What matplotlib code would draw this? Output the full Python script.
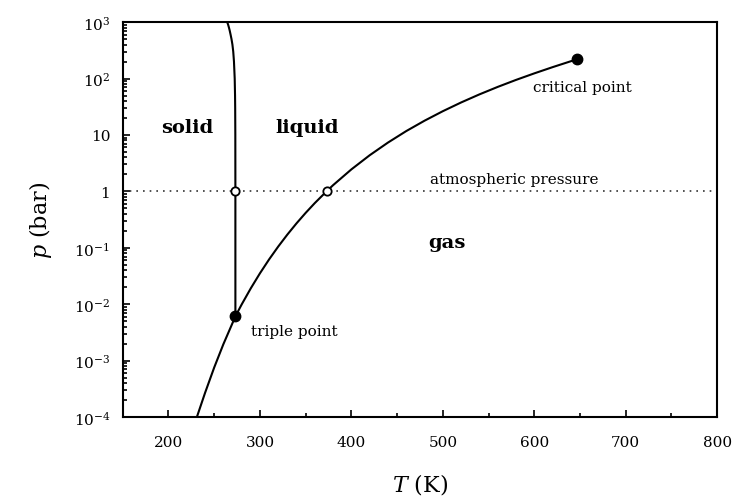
import matplotlib
matplotlib.use("Agg")
import matplotlib.pyplot as plt
from matplotlib.ticker import FixedLocator, FixedFormatter, LogLocator, MultipleLocator, NullFormatter

plt.rcParams['font.family'] = ['DejaVu Serif']
plt.rcParams['mathtext.fontset'] = 'dejavuserif'

# Data
sub_T = [231.0, 240.0, 250.0, 260.0, 273.16]
sub_p = [1.0e-4, 2.7e-4, 7.6e-4, 1.96e-3, 6.1e-3]

vap_T = [273.16, 280.0, 290.0, 300.0, 310.0, 320.0, 330.0, 340.0, 350.0, 360.0,
         373.15, 380.0, 400.0, 420.0, 440.0, 460.0, 480.0, 500.0, 520.0, 540.0,
         560.0, 580.0, 600.0, 620.0, 640.0, 647.1]
vap_p = [6.12e-3, 9.92e-3, 1.92e-2, 3.54e-2, 6.24e-2, 0.1055, 0.1721, 0.2719, 0.4168, 0.6219,
         1.0142, 1.2906, 2.4577, 4.373, 7.337, 11.73, 17.91, 26.39, 37.69, 52.38,
         71.08, 94.53, 123.46, 159.11, 202.65, 220.64]

melt_T = [273.16, 273.15, 273.08, 272.93, 272.78, 272.4, 271.6, 270.8, 269.9, 268.9,
          267.9, 267.0, 266.1, 265.2, 264.2]
melt_p = [6.1e-3, 1.013, 10.0, 30.0, 50.0, 100.0, 200.0, 300.0, 400.0, 500.0,
          600.0, 700.0, 800.0, 900.0, 1000.0]

filled_T = [273.16, 647.1]
filled_p = [6.12e-3, 220.64]
open_T = [273.15, 373.15]
open_p = [1.0, 1.0]

atm_p = 1.0
T_range = [150, 800]
p_range = [1e-4, 1e3]

ytick_vals = [1e-4, 1e-3, 1e-2, 1e-1, 1, 10, 1e2, 1e3]
ytick_labels = [r'$10^{-4}$', r'$10^{-3}$', r'$10^{-2}$', r'$10^{-1}$', '1', '10', r'$10^{2}$', r'$10^{3}$']
xtick_vals = [200, 300, 400, 500, 600, 700, 800]

fig = plt.figure(figsize=(7.44, 5.02), dpi=100)
ax = fig.add_axes([0.165, 0.167, 0.799, 0.787])

ax.plot(sub_T, sub_p, color='black', lw=1.5)
ax.plot(vap_T, vap_p, color='black', lw=1.5)
ax.plot(melt_T, melt_p, color='black', lw=1.5)
ax.plot(T_range, [atm_p, atm_p], color='#333333', lw=1.2, ls=(0, (1, 3)))
ax.plot(filled_T, filled_p, 'o', color='black', ms=7.5, zorder=5)
ax.plot(open_T, open_p, 'o', mfc='white', mec='black', mew=1.3, ms=6, zorder=5)

ax.set_yscale('log')
ax.set_xlim(*T_range)
ax.set_ylim(*p_range)

ax.yaxis.set_major_locator(FixedLocator(ytick_vals))
ax.yaxis.set_major_formatter(FixedFormatter(ytick_labels))
ax.yaxis.set_minor_locator(LogLocator(base=10, subs=range(2, 10)))
ax.yaxis.set_minor_formatter(NullFormatter())
ax.xaxis.set_major_locator(FixedLocator(xtick_vals))
ax.xaxis.set_minor_locator(MultipleLocator(50))

ax.tick_params(which='both', direction='in', top=False, right=False, labelsize=11, width=1.2)
ax.tick_params(which='major', length=5)
ax.tick_params(which='minor', length=3)
ax.tick_params(axis='x', which='major', pad=13)
ax.tick_params(axis='y', which='major', pad=9)
for s in ax.spines.values():
    s.set_linewidth(1.5)

ax.set_xlabel(r'$T$ (K)', fontsize=16, labelpad=16)
ax.set_ylabel(r'$p$ (bar)', fontsize=16, labelpad=14)

ax.text(220, 14, 'solid', fontsize=14, fontweight='bold', ha='center', va='center')
ax.text(352, 14, 'liquid', fontsize=14, fontweight='bold', ha='center', va='center')
ax.text(504, 0.126, 'gas', fontsize=14, fontweight='bold', ha='center', va='center')
ax.text(599, 70, 'critical point', fontsize=11, ha='left', va='center')
ax.text(486, 1.65, 'atmospheric pressure', fontsize=11, ha='left', va='center')
ax.text(290, 0.0033, 'triple point', fontsize=11, ha='left', va='center')

fig.savefig('out.png', dpi=100)
